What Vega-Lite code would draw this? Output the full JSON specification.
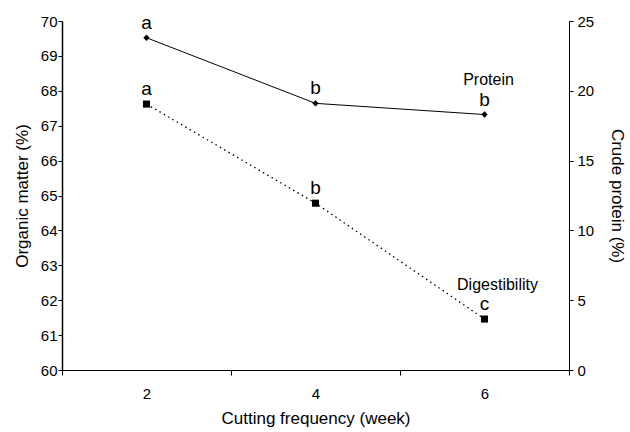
{
  "$schema": "https://vega.github.io/schema/vega-lite/v6.json",
  "width": 507,
  "height": 349,
  "autosize": "none",
  "padding": {"left": 62, "top": 21, "right": 61, "bottom": 62},
  "config": {
    "view": {"stroke": null},
    "font": "Liberation Sans",
    "axis": {
      "domainColor": "black",
      "tickColor": "black",
      "labelColor": "black",
      "titleColor": "black",
      "grid": false,
      "labelFont": "Liberation Sans",
      "titleFont": "Liberation Sans",
      "labelFontSize": 15,
      "titleFontSize": 17,
      "titleFontWeight": "normal",
      "tickSize": 5
    }
  },
  "data": {
    "values": [
      {"week": 2, "series": "Protein", "value": 23.8, "letter": "a"},
      {"week": 4, "series": "Protein", "value": 19.1, "letter": "b"},
      {"week": 6, "series": "Protein", "value": 18.3, "letter": "b"},
      {"week": 2, "series": "Digestibility", "value": 67.62, "letter": "a"},
      {"week": 4, "series": "Digestibility", "value": 64.78, "letter": "b"},
      {"week": 6, "series": "Digestibility", "value": 61.46, "letter": "c"}
    ]
  },
  "layer": [
    {
      "transform": [{"filter": "datum.series == 'Digestibility'"}],
      "encoding": {
        "x": {
          "field": "week",
          "type": "quantitative",
          "scale": {"domain": [1, 7], "nice": false, "zero": false},
          "axis": {
            "title": "Cutting frequency (week)",
            "values": [1, 2, 3, 4, 5, 6, 7],
            "labelExpr": "datum.value % 2 == 0 ? datum.value : ''",
            "labelOverlap": false,
            "labelFlush": false,
            "labelPadding": 11,
            "titlePadding": 9,
            "tickOpacity": {"condition": {"test": "datum.value % 2 == 1", "value": 1}, "value": 0}
          }
        },
        "y": {
          "field": "value",
          "type": "quantitative",
          "scale": {"domain": [60, 70], "nice": false, "zero": false},
          "axis": {
            "title": "Organic matter (%)",
            "orient": "left",
            "values": [60, 61, 62, 63, 64, 65, 66, 67, 68, 69, 70],
            "tickSize": 4,
            "labelPadding": 1,
            "domainWidth": 1.5,
            "titlePadding": 9
          }
        }
      },
      "layer": [
        {"mark": {"type": "line", "color": "black", "strokeWidth": 1.3, "strokeDash": [1.5, 3.5]}},
        {"mark": {"type": "square", "color": "black", "size": 50, "filled": true, "opacity": 1}},
        {"mark": {"type": "text", "dy": -15, "fontSize": 19, "color": "black"}, "encoding": {"text": {"field": "letter"}}},
        {"transform": [{"filter": "datum.week == 6"}], "mark": {"type": "text", "dy": -34, "dx": 13, "fontSize": 16, "color": "black"}, "encoding": {"text": {"field": "series"}}}
      ]
    },
    {
      "transform": [{"filter": "datum.series == 'Protein'"}],
      "encoding": {
        "x": {"field": "week", "type": "quantitative"},
        "y": {
          "field": "value",
          "type": "quantitative",
          "scale": {"domain": [0, 25], "nice": false},
          "axis": {
            "title": "Crude protein (%)",
            "orient": "right",
            "values": [0, 5, 10, 15, 20, 25],
            "tickSize": 4,
            "labelPadding": 4,
            "titlePadding": 14
          }
        }
      },
      "layer": [
        {"mark": {"type": "line", "color": "black", "strokeWidth": 1}},
        {"mark": {"type": "point", "shape": "diamond", "color": "black", "size": 40, "filled": true, "opacity": 1}},
        {"mark": {"type": "text", "dy": -15, "fontSize": 19, "color": "black"}, "encoding": {"text": {"field": "letter"}}},
        {"transform": [{"filter": "datum.week == 6"}], "mark": {"type": "text", "dy": -35, "dx": 4, "fontSize": 16, "color": "black"}, "encoding": {"text": {"field": "series"}}}
      ]
    }
  ],
  "resolve": {"scale": {"y": "independent"}}
}
